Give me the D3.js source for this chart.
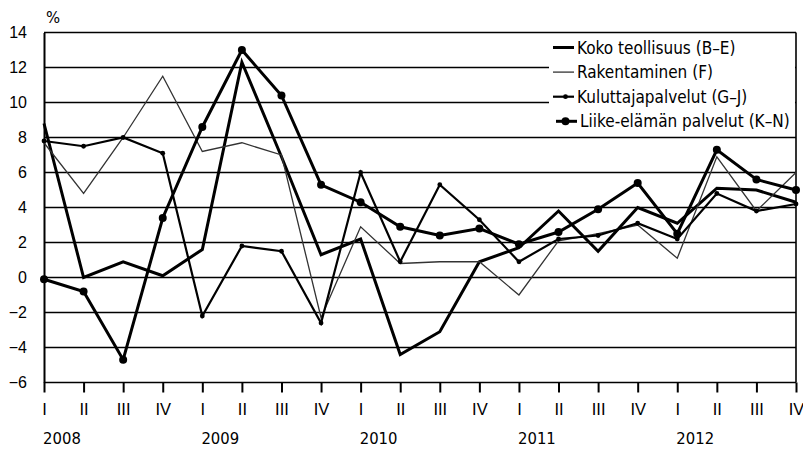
<!DOCTYPE html>
<html lang="fi">
<head>
<meta charset="UTF-8">
<title>Liikevaihdon kehitys</title>
<script src="https://d3js.org/d3.v7.min.js"></script>
<style>
  body { margin: 0; background: #fff; }
  svg { font-family: "DejaVu Sans Condensed", "DejaVu Sans", sans-serif; }
  .y-axis .tick text { font-size: 16px; fill: #000; }
  .x-axis .tick text { font-size: 16.5px; fill: #000; }
</style>
</head>
<body>
<div id="chart"></div>
<script>
// quarters 2008 I ... 2012 IV
const years = ["2008", "2009", "2010", "2011", "2012"];
const quarters = ["I", "II", "III", "IV"];

const koko = [8.8, 0.0, 0.9, 0.1, 1.6, 12.3, 6.9, 1.3, 2.2, -4.4, -3.1, 0.9, 1.7, 3.8, 1.5, 4.0, 3.1, 5.1, 5.0, 4.3];
const rakentaminen = [7.7, 4.8, 8.0, 11.5, 7.2, 7.7, 7.0, -2.3, 2.9, 0.8, 0.9, 0.9, -1.0, 2.1, 2.5, 3.0, 1.1, 6.9, 3.8, 6.0];
const kuluttaja = [7.8, 7.5, 8.0, 7.1, -2.2, 1.8, 1.5, -2.6, 6.0, 0.9, 5.3, 3.3, 0.9, 2.2, 2.4, 3.1, 2.2, 4.8, 3.8, 4.2];
const liike = [-0.1, -0.8, -4.7, 3.4, 8.6, 13.0, 10.4, 5.3, 4.3, 2.9, 2.4, 2.8, 1.9, 2.6, 3.9, 5.4, 2.5, 7.3, 5.6, 5.0];

const yTicks = [-6, -4, -2, 0, 2, 4, 6, 8, 10, 12, 14];

const series = [
  { name: "Koko teollisuus (B\u2013E)", values: koko, width: 3, color: "#000", marker: 0 },
  { name: "Rakentaminen (F)", values: rakentaminen, width: 1.3, color: "#333", marker: 0 },
  { name: "Kuluttajapalvelut (G\u2013J)", values: kuluttaja, width: 2.2, color: "#000", marker: 2.4 },
  { name: "Liike-el\u00e4m\u00e4n palvelut (K\u2013N)", values: liike, width: 3, color: "#000", marker: 4 }
];

const W = 803, H = 449;
const mLeft = 44, mRight = 796, mTop = 32.5, mBottom = 382.5;

const svg = d3.select("#chart").append("svg")
  .attr("width", W).attr("height", H);

const idx = d3.range(years.length * quarters.length);
const x = d3.scalePoint().domain(idx).range([mLeft, mRight]);
const y = d3.scaleLinear().domain([-6, 14]).range([mBottom, mTop]);

// horizontal grid
svg.append("g").selectAll("line")
  .data(yTicks)
  .enter().append("line")
  .attr("x1", mLeft).attr("x2", mRight)
  .attr("y1", d => y(d)).attr("y2", d => y(d))
  .attr("stroke", "#000").attr("stroke-width", 1.6);

// right border
svg.append("line")
  .attr("x1", mRight).attr("x2", mRight)
  .attr("y1", mTop).attr("y2", mBottom)
  .attr("stroke", "#000").attr("stroke-width", 1.6);

// y axis
const yAxis = svg.append("g")
  .attr("class", "y-axis")
  .attr("transform", `translate(${mLeft},0)`)
  .call(d3.axisLeft(y).tickValues(yTicks).tickSize(0).tickPadding(17));
yAxis.select(".domain").attr("stroke", "#000").attr("stroke-width", 2);

svg.append("text")
  .attr("x", 46).attr("y", 23)
  .attr("font-size", 16.5)
  .text("%");

// x axis
const xAxis = svg.append("g")
  .attr("class", "x-axis")
  .attr("transform", `translate(0,${mBottom})`)
  .call(d3.axisBottom(x).tickSize(10).tickPadding(8)
    .tickFormat(d => quarters[d % 4]));
xAxis.select(".domain").remove();
xAxis.selectAll(".tick line").attr("stroke", "#000").attr("stroke-width", 2);
xAxis.selectAll(".tick text").attr("dy", "0.85em");

svg.append("g").selectAll("text")
  .data(years)
  .enter().append("text")
  .attr("x", (d, i) => x(i * 4) + 18)
  .attr("y", 444)
  .attr("text-anchor", "middle")
  .attr("font-size", 16.5)
  .text(d => d);

// lines
const line = d3.line()
  .x((d, i) => x(i))
  .y(d => y(d));

const g = svg.append("g");
series.forEach(s => {
  g.append("path")
    .datum(s.values)
    .attr("d", line)
    .attr("fill", "none")
    .attr("stroke", s.color)
    .attr("stroke-width", s.width)
    .attr("stroke-linejoin", "miter");
  if (s.marker) {
    g.selectAll(null)
      .data(s.values)
      .enter().append("circle")
      .attr("cx", (d, i) => x(i))
      .attr("cy", d => y(d))
      .attr("r", s.marker)
      .attr("fill", "#000");
  }
});

// legend
const leg = svg.append("g");
leg.append("rect")
  .attr("x", 549).attr("y", mTop + 1.5)
  .attr("width", mRight - 549 - 1).attr("height", 136 - mTop - 3)
  .attr("fill", "#fff");

const legItem = leg.selectAll("g.item")
  .data(series)
  .enter().append("g")
  .attr("class", "item")
  .attr("transform", (d, i) => `translate(0,${47.5 + i * 24.6})`);

legItem.append("line")
  .attr("x1", (d, i) => i === 3 ? 556 : 553)
  .attr("x2", (d, i) => i === 3 ? 577 : 574)
  .attr("stroke", d => d.color)
  .attr("stroke-width", d => d.width);
legItem.filter(d => d.marker).append("circle")
  .attr("cx", 565.5)
  .attr("r", d => d.marker)
  .attr("fill", "#000");
legItem.append("text")
  .attr("x", (d, i) => i === 3 ? 580 : 577)
  .attr("dy", "0.36em")
  .attr("font-size", 17)
  .text(d => d.name);
</script>
</body>
</html>
